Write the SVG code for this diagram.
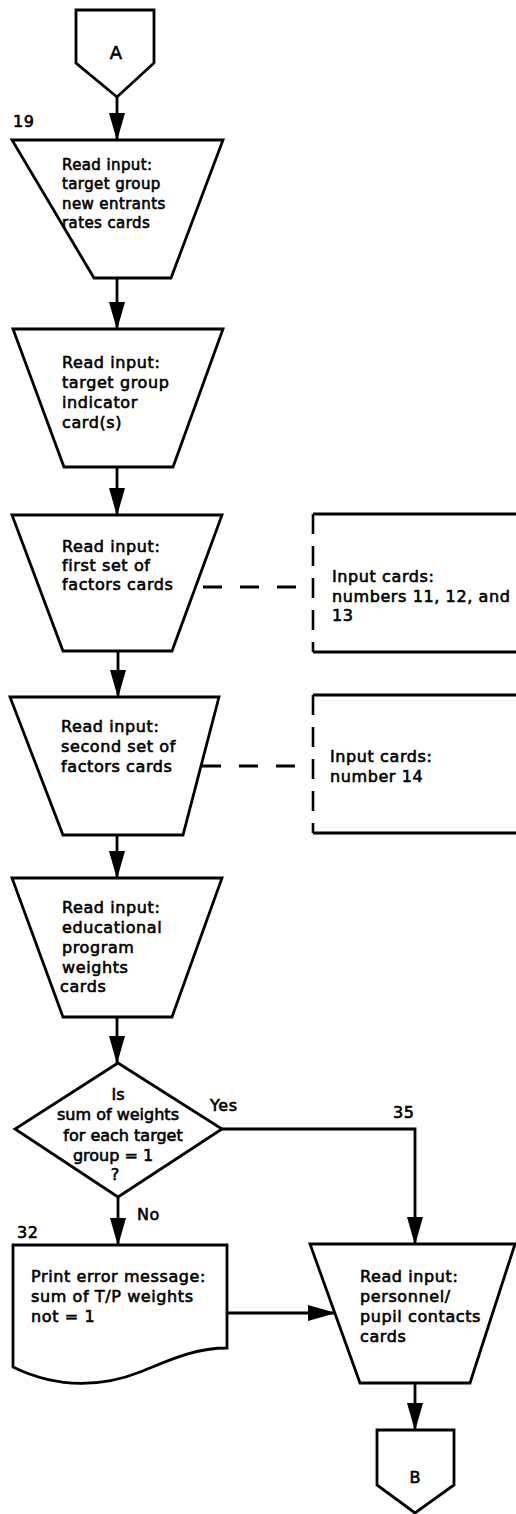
<svg xmlns="http://www.w3.org/2000/svg" width="516" height="1514" viewBox="0 0 516 1514">
  <defs>
    <marker id="arrow" markerUnits="userSpaceOnUse" markerWidth="28" markerHeight="16" viewBox="0 0 28 16" refX="27" refY="8" orient="auto">
      <path d="M0,0 L28,8 L0,16 Z" fill="#000"/>
    </marker>
    <style>
      .shape { fill: #fff; stroke: #000; stroke-width: 2.8; stroke-linejoin: miter; }
      .line { fill: none; stroke: #000; stroke-width: 2.8; }
      .flow { marker-end: url(#arrow); }
      .dash { fill: none; stroke: #000; stroke-width: 2.8; stroke-dasharray: 19 18; }
      .dashedge { fill: none; stroke: #000; stroke-width: 2.6; stroke-dasharray: 20 12; }
      text { font-family: "DejaVu Sans", "Liberation Sans", sans-serif; font-size: 16px; letter-spacing: 0.6px; fill: #000; stroke: #000; stroke-width: 0.6; }
      .small { font-size: 15px; letter-spacing: 0.4px; }
      .mid { text-anchor: middle; letter-spacing: 0; }
    </style>
  </defs>

  <!-- connectors -->
  <g id="connectors">
    <path class="line flow" d="M117,97 V140"/>
    <path class="line flow" d="M117,278 V329"/>
    <path class="line flow" d="M117,467 V515"/>
    <path class="line flow" d="M118,651 V697"/>
    <path class="line flow" d="M117,835 V878"/>
    <path class="line flow" d="M117,1017 V1063"/>
    <path class="line flow" d="M118,1197 V1245"/>
    <path class="line flow" d="M222,1129 H415 V1244"/>
    <path class="line flow" d="M227,1313 H335"/>
    <path class="line flow" d="M415,1383 V1430"/>
    <path class="dash" d="M203,587 H297"/>
    <path class="dash" d="M202,766 H297"/>
    <text x="13" y="127">19</text>
    <text x="210" y="1111">Yes</text>
    <text x="393" y="1118">35</text>
    <text x="137" y="1220">No</text>
    <text x="17" y="1238">32</text>
  </g>

  <!-- off-page connector A -->
  <g id="connA">
    <polygon class="shape" points="76,10 154,10 154,63 117,97 76,63"/>
    <text class="mid" x="116" y="59" style="font-size:18px">A</text>
  </g>

  <g id="n19">
    <polygon class="shape" points="12,140 223,140 171,278 94,278"/>
    <text class="small" x="62" y="170">Read input:</text>
    <text class="small" x="62" y="189">target group</text>
    <text class="small" x="62" y="209">new entrants</text>
    <text class="small" x="62" y="228">rates cards</text>
  </g>

  <g id="n20">
    <polygon class="shape" points="13,329 223,329 173,467 64,467"/>
    <text x="62" y="368">Read input:</text>
    <text x="62" y="388">target group</text>
    <text x="62" y="408">indicator</text>
    <text x="62" y="428">card(s)</text>
  </g>

  <g id="n21">
    <polygon class="shape" points="12,515 222,515 172,651 63,651"/>
    <text x="62" y="552">Read input:</text>
    <text x="62" y="571">first set of</text>
    <text x="62" y="590">factors cards</text>
  </g>

  <g id="note21">
    <path class="line" d="M516,514 H313"/>
    <path class="line" d="M313,652 H516"/>
    <path class="dashedge" d="M313,514 V652"/>
    <text x="332" y="582">Input cards:</text>
    <text x="332" y="602">numbers 11, 12, and</text>
    <text x="332" y="621">13</text>
  </g>

  <g id="n22">
    <polygon class="shape" points="10,697 219,697 183,835 63,835"/>
    <text x="61" y="732">Read input:</text>
    <text x="61" y="752">second set of</text>
    <text x="61" y="772">factors cards</text>
  </g>

  <g id="note22">
    <path class="line" d="M516,695 H313"/>
    <path class="line" d="M313,833 H516"/>
    <path class="dashedge" d="M313,695 V833"/>
    <text x="330" y="762">Input cards:</text>
    <text x="330" y="782">number 14</text>
  </g>

  <g id="n23">
    <polygon class="shape" points="12,878 222,878 172,1017 63,1017"/>
    <text x="62" y="913">Read input:</text>
    <text x="62" y="933">educational</text>
    <text x="62" y="953">program</text>
    <text x="62" y="973">weights</text>
    <text x="60" y="992">cards</text>
  </g>

  <g id="decision">
    <polygon class="shape" points="118,1063 222,1129 118,1197 15,1129"/>
    <text class="mid" x="118" y="1100">Is</text>
    <text class="mid" x="118" y="1120">sum of weights</text>
    <text class="mid" x="123" y="1141">for each target</text>
    <text class="mid" x="113" y="1161">group = 1</text>
    <text class="mid" x="115" y="1180">?</text>
  </g>

  <g id="n32">
    <path class="shape" d="M13,1245 H227 V1348 C195,1348 170,1360 140,1372 C105,1386 60,1390 13,1367 Z"/>
    <text x="31" y="1282">Print error message:</text>
    <text x="31" y="1302">sum of T/P weights</text>
    <text x="31" y="1322">not = 1</text>
  </g>

  <g id="n35">
    <polygon class="shape" points="310,1244 515,1244 470,1383 360,1383"/>
    <text x="360" y="1282">Read input:</text>
    <text x="360" y="1302">personnel/</text>
    <text x="360" y="1322">pupil contacts</text>
    <text x="360" y="1342">cards</text>
  </g>

  <!-- off-page connector B -->
  <g id="connB">
    <polygon class="shape" points="377,1430 454,1430 454,1485 415,1513 377,1485"/>
    <text class="mid" x="415" y="1483">B</text>
  </g>
</svg>
